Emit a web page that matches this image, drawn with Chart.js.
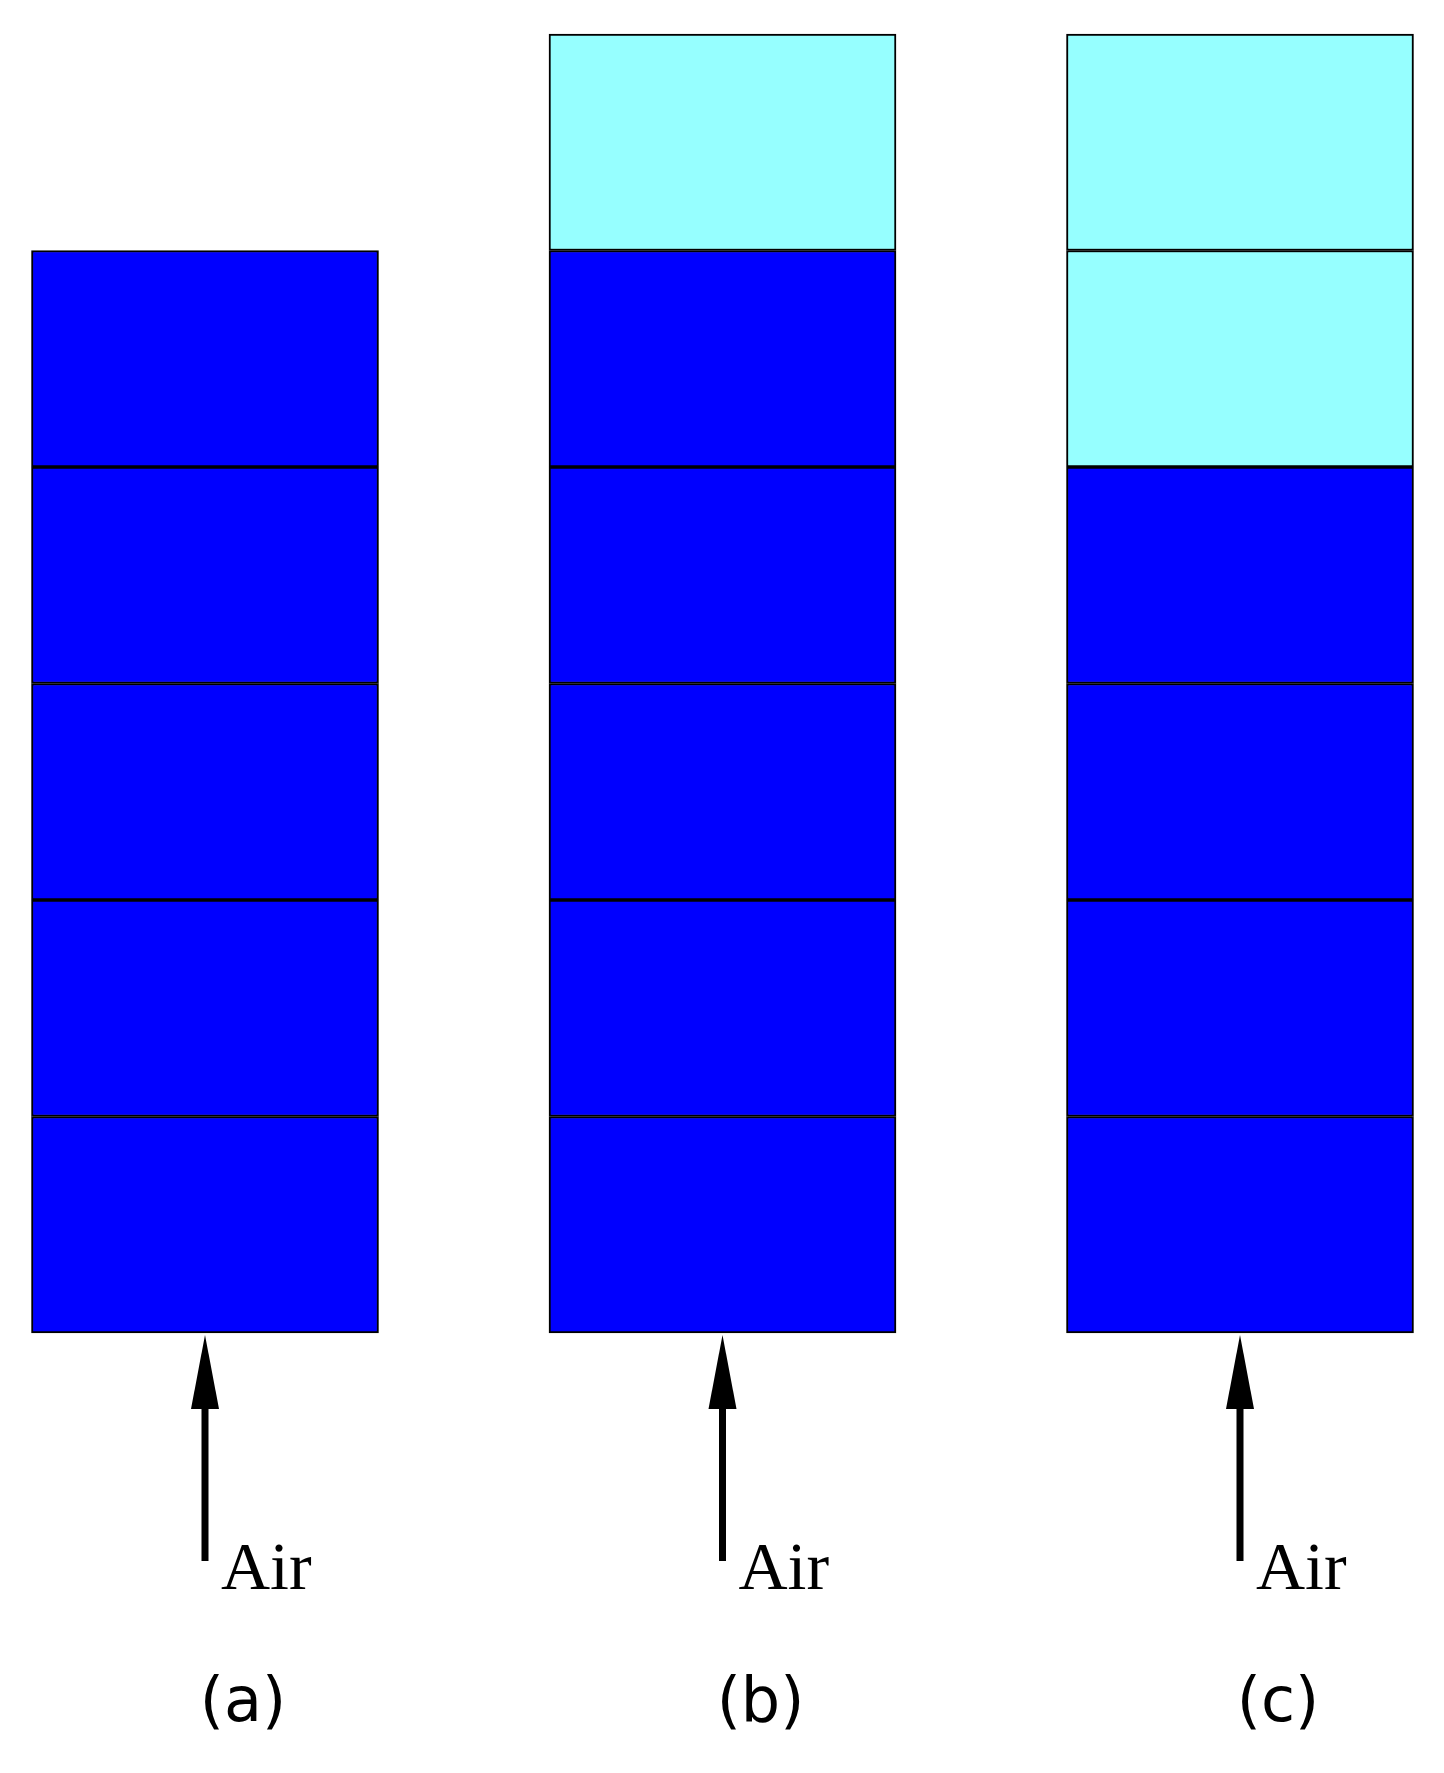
<!DOCTYPE html>
<html><head><meta charset="utf-8">
<script src="https://cdn.jsdelivr.net/npm/chart.js@4"></script>
<style>html,body{margin:0;padding:0;background:#fff}#w{width:1444px;height:1773px}</style>
</head><body><div id="w"><canvas id="c"></canvas></div>
<script>
const categories = ['(a)', '(b)', '(c)'];
const layer1 = [1, 1, 1];
const layer2 = [1, 1, 1];
const layer3 = [1, 1, 1];
const layer4 = [1, 1, 1];
const layer5 = [1, 1, 0];
const layer6 = [0, 1, 1];
const layer6b = [0, 0, 1];
const inputLabel = 'Air';
const dark = '#0000ff', light = '#96ffff';
const mk = (d, col) => ({data: d, backgroundColor: col, borderColor: '#000', borderWidth: 2, borderSkipped: false, barThickness: 347, clip: false});
const overlay = {
  id: 'overlay',
  afterDraw(chart) {
    const ctx = chart.ctx, x = chart.scales.x, y = chart.scales.y;
    const y0 = y.getPixelForValue(0);
    categories.forEach((lab, i) => {
      const cx = x.getPixelForValue(i);
      ctx.save();
      ctx.fillStyle = '#000'; ctx.strokeStyle = '#000'; ctx.lineWidth = 7;
      ctx.beginPath(); ctx.moveTo(cx, y0 + 60); ctx.lineTo(cx, y0 + 228); ctx.stroke();
      ctx.beginPath(); ctx.moveTo(cx, y0 + 2); ctx.lineTo(cx - 14, y0 + 76); ctx.lineTo(cx + 14, y0 + 76); ctx.closePath(); ctx.fill();
      ctx.font = '68px "Liberation Serif"'; ctx.textBaseline = 'alphabetic'; ctx.textAlign = 'left';
      ctx.fillText(inputLabel, cx + 16, y0 + 256);
      ctx.font = '62px "DejaVu Sans"'; ctx.textAlign = 'center'; ctx.textBaseline = 'middle';
      ctx.fillText(lab, cx + 38, y0 + 372);
      ctx.restore();
    });
  }
};
new Chart(document.getElementById('c'), {
  type: 'bar',
  data: {labels: categories, datasets: [mk(layer1, dark), mk(layer2, dark), mk(layer3, dark), mk(layer4, dark), mk(layer5, dark), mk(layer6, light), mk(layer6b, light)]},
  options: {
    responsive: true, maintainAspectRatio: false, animation: false,
    layout: {padding: {left: 205, right: 204, top: 34, bottom: 440}},
    plugins: {legend: {display: false}, tooltip: {enabled: false}},
    scales: {
      x: {stacked: true, offset: false, display: false},
      y: {stacked: true, min: 0, max: 6, display: false}
    }
  },
  plugins: [overlay]
});
</script></body></html>
